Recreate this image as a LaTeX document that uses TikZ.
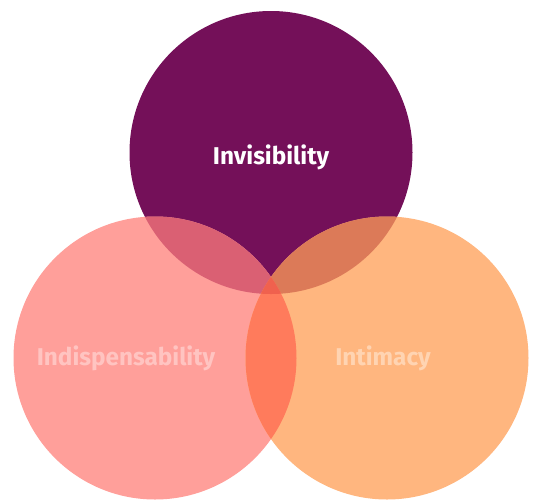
\documentclass[tikz,border=0pt]{standalone}
\usepackage{fontspec}
\setmainfont{Fira Sans}
\definecolor{ctop}{HTML}{741059}
\definecolor{cleft}{HTML}{FF9F9A}
\definecolor{cright}{HTML}{FFB67F}
\definecolor{ctl}{HTML}{DA6073}
\definecolor{ctr}{HTML}{DC7A58}
\definecolor{clr}{HTML}{FF7B5C}
\definecolor{call}{HTML}{F0614E}
\definecolor{tleft}{HTML}{FFC4C1}
\definecolor{tright}{HTML}{FFD4B2}
\begin{document}
\begin{tikzpicture}[x=1pt,y=-1pt,
  lbl/.style={font=\fontsize{24.3}{28}\selectfont\bfseries, inner sep=0pt}]
\useasboundingbox (0,0) rectangle (533,499);
\def\R{141.5}
\coordinate (T) at (271,152.5);
\coordinate (L) at (155,358);
\coordinate (Rt) at (387,358);
\fill[ctop] (T) circle (\R);
\fill[cleft] (L) circle (\R);
\fill[cright] (Rt) circle (\R);
\begin{scope}
  \clip (T) circle (\R);
  \fill[ctl] (L) circle (\R);
  \fill[ctr] (Rt) circle (\R);
\end{scope}
\begin{scope}
  \clip (L) circle (\R);
  \fill[clr] (Rt) circle (\R);
  \clip (Rt) circle (\R);
  \fill[call] (T) circle (\R);
\end{scope}
\node[lbl, text=white] (ti) at (271,157) {Invisibility};
\node[lbl, text=tleft] (tl) at (126,358) {Indispensability};
\node[lbl, text=tright] (tr) at (383,358) {Intimacy};
\end{tikzpicture}
\end{document}
